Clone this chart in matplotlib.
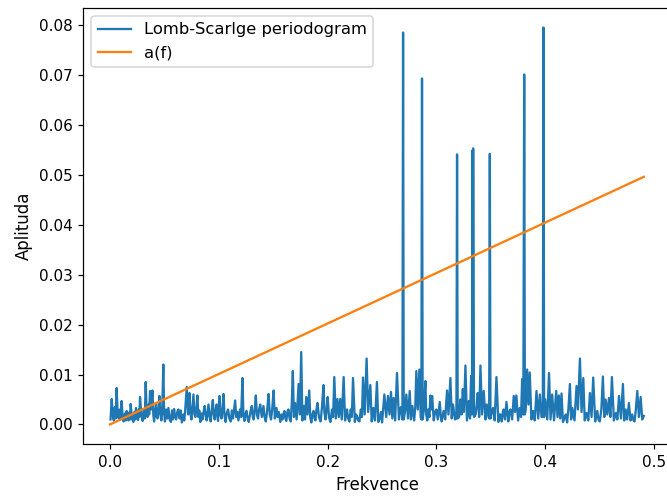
import matplotlib
matplotlib.use("Agg")
import matplotlib.pyplot as plt

# Lomb-Scargle periodogram (peaks and troughs)
freq = [
    0.0005, 0.0016, 0.0025, 0.0035, 0.0045, 0.0052, 0.0061, 0.0070, 0.0080, 0.0090,
    0.0098, 0.0107, 0.0116, 0.0125, 0.0138, 0.0145, 0.0153, 0.0162, 0.0170, 0.0180,
    0.0185, 0.0190, 0.0202, 0.0215, 0.0225, 0.0232, 0.0239, 0.0248, 0.0258, 0.0266,
    0.0270, 0.0276, 0.0288, 0.0300, 0.0312, 0.0320, 0.0328, 0.0337, 0.0345, 0.0355,
    0.0360, 0.0368, 0.0378, 0.0390, 0.0398, 0.0405, 0.0413, 0.0423, 0.0430, 0.0437,
    0.0446, 0.0454, 0.0463, 0.0472, 0.0480, 0.0490, 0.0497, 0.0505, 0.0515, 0.0525,
    0.0537, 0.0548, 0.0560, 0.0570, 0.0578, 0.0589, 0.0598, 0.0608, 0.0618, 0.0629,
    0.0640, 0.0650, 0.0660, 0.0675, 0.0682, 0.0690, 0.0705, 0.0718, 0.0730, 0.0738,
    0.0748, 0.0758, 0.0767, 0.0776, 0.0785, 0.0795, 0.0803, 0.0812, 0.0820, 0.0830,
    0.0840, 0.0850, 0.0860, 0.0870, 0.0878, 0.0888, 0.0897, 0.0905, 0.0915, 0.0925,
    0.0935, 0.0945, 0.0953, 0.0962, 0.0970, 0.0980, 0.0987, 0.0993, 0.1006, 0.1015,
    0.1025, 0.1035, 0.1043, 0.1052, 0.1062, 0.1072, 0.1085, 0.1097, 0.1110, 0.1120,
    0.1130, 0.1140, 0.1150, 0.1160, 0.1170, 0.1180, 0.1195, 0.1205, 0.1217, 0.1226,
    0.1235, 0.1245, 0.1254, 0.1265, 0.1275, 0.1290, 0.1303, 0.1312, 0.1320, 0.1330,
    0.1340, 0.1350, 0.1360, 0.1370, 0.1380, 0.1395, 0.1410, 0.1420, 0.1432, 0.1445,
    0.1457, 0.1468, 0.1480, 0.1492, 0.1503, 0.1515, 0.1530, 0.1540, 0.1550, 0.1565,
    0.1575, 0.1585, 0.1595, 0.1603, 0.1612, 0.1620, 0.1630, 0.1640, 0.1650, 0.1660,
    0.1670, 0.1680, 0.1690, 0.1700, 0.1715, 0.1733, 0.1745, 0.1757, 0.1768, 0.1780,
    0.1792, 0.1803, 0.1815, 0.1831, 0.1840, 0.1850, 0.1860, 0.1870, 0.1880, 0.1888,
    0.1897, 0.1907, 0.1920, 0.1935, 0.1948, 0.1962, 0.1970, 0.1980, 0.1990, 0.2000,
    0.2012, 0.2025, 0.2040, 0.2050, 0.2061, 0.2075, 0.2090, 0.2103, 0.2116, 0.2130,
    0.2147, 0.2160, 0.2170, 0.2178, 0.2188, 0.2200, 0.2212, 0.2222, 0.2233, 0.2250,
    0.2260, 0.2270, 0.2280, 0.2292, 0.2305, 0.2315, 0.2325, 0.2340, 0.2358, 0.2372,
    0.2392, 0.2405, 0.2420, 0.2435, 0.2453, 0.2465, 0.2480, 0.2490, 0.2500, 0.2510,
    0.2521, 0.2538, 0.2554, 0.2568, 0.2582, 0.2594, 0.2606, 0.2620, 0.2637, 0.2655,
    0.2665, 0.2675, 0.2687, 0.2693, 0.2699, 0.2710, 0.2723, 0.2738, 0.2754, 0.2765,
    0.2778, 0.2795, 0.2805, 0.2815, 0.2828, 0.2843, 0.2855, 0.2861, 0.2867, 0.2873,
    0.2885, 0.2898, 0.2906, 0.2915, 0.2925, 0.2935, 0.2944, 0.2950, 0.2960, 0.2975,
    0.2987, 0.2999, 0.3012, 0.3030, 0.3040, 0.3048, 0.3065, 0.3080, 0.3097, 0.3110,
    0.3128, 0.3140, 0.3152, 0.3170, 0.3183, 0.3189, 0.3195, 0.3208, 0.3220, 0.3230,
    0.3242, 0.3252, 0.3266, 0.3280, 0.3297, 0.3308, 0.3318, 0.3326, 0.3330, 0.3333,
    0.3337, 0.3345, 0.3360, 0.3370, 0.3379, 0.3392, 0.3404, 0.3418, 0.3434, 0.3450,
    0.3462, 0.3478, 0.3484, 0.3490, 0.3496, 0.3508, 0.3520, 0.3535, 0.3551, 0.3568,
    0.3578, 0.3587, 0.3600, 0.3610, 0.3617, 0.3630, 0.3643, 0.3660, 0.3670, 0.3679,
    0.3695, 0.3710, 0.3722, 0.3734, 0.3750, 0.3765, 0.3777, 0.3787, 0.3798, 0.3806,
    0.3812, 0.3820, 0.3833, 0.3845, 0.3857, 0.3872, 0.3888, 0.3903, 0.3919, 0.3935,
    0.3950, 0.3965, 0.3977, 0.3983, 0.3989, 0.4000, 0.4018, 0.4034, 0.4048, 0.4063,
    0.4080, 0.4100, 0.4112, 0.4124, 0.4137, 0.4149, 0.4162, 0.4177, 0.4188, 0.4200,
    0.4212, 0.4226, 0.4237, 0.4248, 0.4268, 0.4287, 0.4300, 0.4318, 0.4333, 0.4349,
    0.4362, 0.4379, 0.4395, 0.4410, 0.4425, 0.4440, 0.4458, 0.4468, 0.4477, 0.4488,
    0.4500, 0.4515, 0.4529, 0.4542, 0.4554, 0.4570, 0.4585, 0.4598, 0.4612, 0.4630,
    0.4649, 0.4662, 0.4677, 0.4695, 0.4713, 0.4725, 0.4738, 0.4752, 0.4768, 0.4783,
    0.4798, 0.4810, 0.4820, 0.4832, 0.4845, 0.4860, 0.4876, 0.4890, 0.4905,
]
power = [
    0.0010, 0.0051, 0.0020, 0.0008, 0.0035, 0.0012, 0.0073, 0.0025, 0.0012, 0.0030,
    0.0010, 0.0047, 0.0015, 0.0006, 0.0022, 0.0008, 0.0027, 0.0012, 0.0008, 0.0025,
    0.0010, 0.0041, 0.0012, 0.0005, 0.0025, 0.0010, 0.0033, 0.0015, 0.0009, 0.0030,
    0.0015, 0.0055, 0.0020, 0.0007, 0.0030, 0.0012, 0.0085, 0.0025, 0.0015, 0.0040,
    0.0020, 0.0067, 0.0030, 0.0068, 0.0020, 0.0006, 0.0025, 0.0040, 0.0015, 0.0012,
    0.0030, 0.0057, 0.0020, 0.0008, 0.0025, 0.0120, 0.0025, 0.0006, 0.0030, 0.0012,
    0.0033, 0.0010, 0.0005, 0.0028, 0.0010, 0.0031, 0.0015, 0.0010, 0.0025, 0.0030,
    0.0012, 0.0028, 0.0004, 0.0020, 0.0008, 0.0025, 0.0075, 0.0020, 0.0063, 0.0025,
    0.0010, 0.0035, 0.0060, 0.0020, 0.0015, 0.0035, 0.0058, 0.0015, 0.0028, 0.0005,
    0.0022, 0.0010, 0.0025, 0.0037, 0.0020, 0.0008, 0.0025, 0.0040, 0.0015, 0.0006,
    0.0030, 0.0049, 0.0020, 0.0010, 0.0028, 0.0040, 0.0015, 0.0007, 0.0057, 0.0020,
    0.0012, 0.0035, 0.0061, 0.0018, 0.0005, 0.0022, 0.0030, 0.0012, 0.0006, 0.0028,
    0.0012, 0.0030, 0.0048, 0.0015, 0.0025, 0.0008, 0.0030, 0.0015, 0.0093, 0.0020,
    0.0007, 0.0020, 0.0027, 0.0012, 0.0005, 0.0025, 0.0037, 0.0015, 0.0010, 0.0030,
    0.0058, 0.0020, 0.0012, 0.0030, 0.0040, 0.0015, 0.0037, 0.0015, 0.0006, 0.0030,
    0.0061, 0.0020, 0.0010, 0.0035, 0.0068, 0.0012, 0.0033, 0.0015, 0.0025, 0.0005,
    0.0020, 0.0010, 0.0022, 0.0027, 0.0012, 0.0007, 0.0025, 0.0030, 0.0012, 0.0006,
    0.0040, 0.0107, 0.0015, 0.0043, 0.0010, 0.0081, 0.0020, 0.0145, 0.0008, 0.0037,
    0.0010, 0.0055, 0.0020, 0.0068, 0.0015, 0.0004, 0.0020, 0.0027, 0.0012, 0.0008,
    0.0030, 0.0043, 0.0015, 0.0006, 0.0035, 0.0079, 0.0025, 0.0010, 0.0030, 0.0055,
    0.0015, 0.0005, 0.0030, 0.0015, 0.0095, 0.0012, 0.0051, 0.0015, 0.0051, 0.0010,
    0.0095, 0.0008, 0.0025, 0.0030, 0.0012, 0.0006, 0.0030, 0.0015, 0.0093, 0.0005,
    0.0020, 0.0017, 0.0008, 0.0006, 0.0030, 0.0015, 0.0094, 0.0020, 0.0132, 0.0025,
    0.0079, 0.0006, 0.0033, 0.0008, 0.0085, 0.0005, 0.0013, 0.0025, 0.0004, 0.0030,
    0.0060, 0.0015, 0.0057, 0.0020, 0.0065, 0.0012, 0.0053, 0.0008, 0.0103, 0.0010,
    0.0030, 0.0035, 0.0010, 0.0785, 0.0010, 0.0025, 0.0060, 0.0012, 0.0067, 0.0010,
    0.0037, 0.0008, 0.0035, 0.0107, 0.0030, 0.0110, 0.0015, 0.0010, 0.0693, 0.0010,
    0.0030, 0.0087, 0.0020, 0.0008, 0.0030, 0.0015, 0.0058, 0.0030, 0.0057, 0.0008,
    0.0025, 0.0030, 0.0010, 0.0045, 0.0015, 0.0006, 0.0027, 0.0010, 0.0068, 0.0020,
    0.0093, 0.0012, 0.0040, 0.0010, 0.0012, 0.0541, 0.0012, 0.0015, 0.0050, 0.0020,
    0.0071, 0.0025, 0.0118, 0.0008, 0.0047, 0.0012, 0.0097, 0.0020, 0.0549, 0.0030,
    0.0553, 0.0015, 0.0020, 0.0040, 0.0063, 0.0015, 0.0118, 0.0020, 0.0067, 0.0010,
    0.0040, 0.0015, 0.0012, 0.0542, 0.0012, 0.0025, 0.0033, 0.0008, 0.0095, 0.0005,
    0.0020, 0.0020, 0.0006, 0.0025, 0.0030, 0.0010, 0.0045, 0.0006, 0.0025, 0.0030,
    0.0010, 0.0057, 0.0025, 0.0058, 0.0008, 0.0033, 0.0015, 0.0091, 0.0020, 0.0701,
    0.0020, 0.0030, 0.0110, 0.0040, 0.0104, 0.0010, 0.0027, 0.0008, 0.0067, 0.0012,
    0.0060, 0.0015, 0.0015, 0.0795, 0.0015, 0.0050, 0.0010, 0.0103, 0.0010, 0.0060,
    0.0008, 0.0067, 0.0015, 0.0058, 0.0012, 0.0062, 0.0005, 0.0013, 0.0020, 0.0004,
    0.0030, 0.0081, 0.0010, 0.0033, 0.0008, 0.0077, 0.0030, 0.0132, 0.0025, 0.0093,
    0.0008, 0.0023, 0.0008, 0.0063, 0.0015, 0.0094, 0.0006, 0.0020, 0.0027, 0.0010,
    0.0006, 0.0030, 0.0096, 0.0015, 0.0050, 0.0020, 0.0053, 0.0015, 0.0095, 0.0008,
    0.0023, 0.0010, 0.0057, 0.0012, 0.0081, 0.0008, 0.0030, 0.0010, 0.0043, 0.0008,
    0.0020, 0.0008, 0.0006, 0.0030, 0.0067, 0.0015, 0.0055, 0.0010, 0.0017,
]
assert len(freq) == len(power)

# Linear a(f)
line_f = [0.0, 0.4905]
line_a = [0.0, 0.0496]

DPI = 110
fig = plt.figure(figsize=(667 / DPI, 498 / DPI), dpi=DPI)
ax = fig.add_axes([83.3 / 667, (498 - 444.3) / 498,
                   (670.5 - 83.3) / 667, (444.3 - 7.7) / 498])

ax.plot(freq, power, color="#1f77b4", label="Lomb-Scarlge periodogram")
ax.plot(line_f, line_a, color="#ff7f0e", label="a(f)")
ax.set_xlabel("Frekvence", fontsize=10.8)
ax.set_ylabel("Aplituda", fontsize=10.8)
ax.legend(loc="upper left", fontsize=10.7)

fig.savefig("out.png", dpi=DPI)
